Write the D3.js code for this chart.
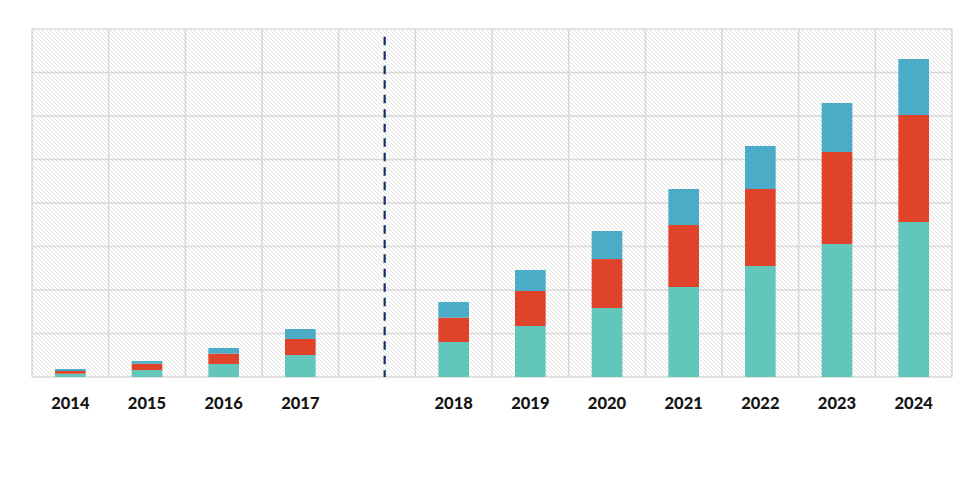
<!DOCTYPE html>
<html>
<head>
<meta charset="utf-8">
<script src="https://cdn.jsdelivr.net/npm/d3@7"></script>
<style>
  html, body { margin: 0; padding: 0; background: #ffffff; }
  svg { display: block; }
</style>
</head>
<body>
<svg id="chart" width="975" height="487"></svg>
<script>
// ---- data (heights in gridline units; one gridline = 1 unit) ----
const categories = ["2014", "2015", "2016", "2017", "", "2018", "2019", "2020", "2021", "2022", "2023", "2024"];
const seriesNames = ["teal", "red", "blue"];
const tealValues = [0.076, 0.16, 0.30, 0.506, null, 0.805, 1.172, 1.586, 2.069, 2.552, 3.057, 3.563];
const redValues  = [0.062, 0.145, 0.237, 0.368, null, 0.559, 0.805, 1.126, 1.425, 1.770, 2.115, 2.460];
const blueValues = [0.046, 0.06, 0.13, 0.23, null, 0.36, 0.483, 0.644, 0.828, 0.989, 1.126, 1.287];
const yTicks = [0, 1, 2, 3, 4, 5, 6, 7, 8];
const colors = ["#62c6bb", "#df4329", "#4aacc6"];

const svg = d3.select("#chart");
const margin = { left: 32, right: 23, top: 29, bottom: 110 };
const W = 975, H = 487;
const plotL = margin.left, plotR = W - margin.right, plotT = margin.top, plotB = H - margin.bottom;

const keys = categories.map((c, i) => c === "" ? "gap" + i : c);
const xGrid = d3.scaleBand().domain(keys).range([plotL, plotR]).padding(0);
const x = d3.scaleBand().domain(keys).range([plotL, plotR]).paddingInner(0.6).paddingOuter(0.3);
const y = d3.scaleLinear().domain([0, 8]).range([plotB, plotT]);

// hatch pattern
const defs = svg.append("defs");
const pat = defs.append("pattern")
  .attr("id", "hatch").attr("patternUnits", "userSpaceOnUse")
  .attr("width", 4).attr("height", 4);
pat.append("rect").attr("width", 4).attr("height", 4).attr("fill", "#ffffff");
pat.append("path").attr("d", "M-1,-1 L5,5 M-1,3 L1,5 M3,-1 L5,1")
  .attr("stroke", "#dedede").attr("stroke-width", 0.9);

svg.append("rect")
  .attr("x", plotL).attr("y", plotT)
  .attr("width", plotR - plotL).attr("height", plotB - plotT)
  .attr("fill", "url(#hatch)");

// grid lines
const grid = svg.append("g").attr("stroke", "#d9d9d9").attr("stroke-width", 1.6);
grid.selectAll("line.h").data(yTicks).join("line").attr("class", "h")
  .attr("x1", plotL).attr("x2", plotR)
  .attr("y1", d => y(d)).attr("y2", d => y(d));
const vEdges = keys.map(k => xGrid(k)).concat([plotR]);
grid.selectAll("line.v").data(vEdges).join("line").attr("class", "v")
  .attr("x1", d => d).attr("x2", d => d)
  .attr("y1", plotT).attr("y2", plotB);

// stacked data
const rows = keys.map((k, i) => ({ key: k, teal: tealValues[i] || 0, red: redValues[i] || 0, blue: blueValues[i] || 0 }))
  .filter((r, i) => tealValues[i] !== null);
const stack = d3.stack().keys(seriesNames)(rows);

svg.append("g").selectAll("g").data(stack).join("g")
  .attr("fill", (d, i) => colors[i])
  .selectAll("rect").data(d => d).join("rect")
  .attr("x", d => x(d.data.key))
  .attr("width", x.bandwidth())
  .attr("y", d => y(d[1]))
  .attr("height", d => y(d[0]) - y(d[1]));

// dashed separator inside the gap column
const gapKey = keys[categories.indexOf("")];
const sepX = xGrid(gapKey) + xGrid.bandwidth() * 0.6;
svg.append("line")
  .attr("x1", sepX).attr("x2", sepX)
  .attr("y1", y(7.82)).attr("y2", plotB)
  .attr("stroke", "#13306b").attr("stroke-width", 2.2)
  .attr("stroke-dasharray", "8.5,6");

// x labels
const xAxis = d3.axisBottom(xGrid).tickSize(0).tickPadding(0)
  .tickFormat((d, i) => categories[i]);
const ax = svg.append("g").attr("transform", `translate(0,${plotB})`).call(xAxis);
ax.select(".domain").remove();
ax.selectAll("text")
  .attr("dy", null).attr("y", 32)
  .attr("font-family", "Lato, 'Open Sans', sans-serif")
  .attr("font-weight", 900).attr("font-size", 16.5)
  .attr("fill", "#151515");
</script>
</body>
</html>
